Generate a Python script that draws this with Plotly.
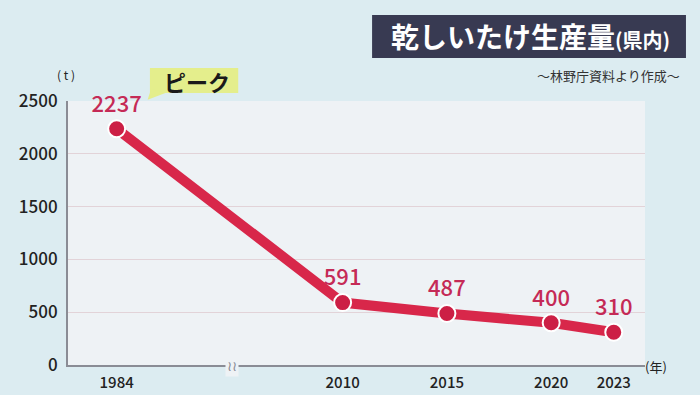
import plotly.graph_objects as go

years = ["1984", "2010", "2015", "2020", "2023"]
values = [2237, 591, 487, 400, 310]
y_ticks = [0, 500, 1000, 1500, 2000, 2500]

dates = [f"{y}-01-01" for y in years]
FONT = "Noto Sans CJK JP"

fig = go.Figure()
fig.add_trace(go.Scatter(
    x=dates, y=values, mode="lines+markers+text",
    line=dict(color="#d8274a", width=10),
    marker=dict(size=17, color="#cc1f45", line=dict(color="#ffffff", width=2)),
    text=[str(v) for v in values], textposition="top center",
    textfont=dict(family=FONT, size=22, color="#c52a56", weight=500),
    cliponaxis=False, hoverinfo="skip",
))

fig.update_layout(
    width=700, height=395,
    margin=dict(l=68, r=55, t=101, b=30),
    paper_bgcolor="#dcecf1",
    plot_bgcolor="#eef2f5",
    showlegend=False,
    font=dict(family=FONT, color="#222"),
    xaxis=dict(
        type="date", automargin=False,
        range=["1981-09-01", "2024-07-01"],
        rangebreaks=[dict(bounds=["1989-03-01", "2004-05-01"])],
        tickvals=dates, ticktext=years,
        tickfont=dict(size=15, color="#222", weight=500),
        showgrid=False, zeroline=False,
        showline=True, linecolor="#8a8c95", linewidth=2,
        ticks="", ticklabelstandoff=3,
    ),
    yaxis=dict(
        range=[0, 2500], tickvals=y_ticks, automargin=False,
        tickfont=dict(size=17, color="#222", weight=500),
        showgrid=True, gridcolor="#e2d3d8", gridwidth=1,
        zeroline=False, showline=True, linecolor="#8a8c95", linewidth=2,
        ticks="", ticklabelstandoff=5,
    ),
)

# title box
fig.add_shape(type="rect", xref="paper", yref="paper",
              x0=0.527, x1=1.071, y0=1.163, y1=1.326,
              fillcolor="#383a52", line=dict(width=0), layer="above")
fig.add_annotation(xref="paper", yref="paper", x=0.801, y=1.245,
                   text="<b>乾しいたけ生産量</b><span style='font-size:20px'><b>(県内)</b></span>",
                   showarrow=False, font=dict(family=FONT, size=28, color="#ffffff"),
                   xanchor="center", yanchor="middle")
fig.add_annotation(xref="paper", yref="paper", x=1.064, y=1.098,
                   text="～林野庁資料より作成～", showarrow=False,
                   font=dict(family=FONT, size=13, color="#333"),
                   xanchor="right", yanchor="middle")

# peak callout
fig.add_shape(type="rect", xref="paper", yref="paper",
              x0=0.142, x1=0.295, y0=1.030, y1=1.125,
              fillcolor="#e4ee8c", line=dict(width=0))
fig.add_shape(type="path", xref="paper", yref="paper",
              path="M 0.144 1.045 L 0.170 1.031 L 0.138 1.005 Z",
              fillcolor="#e4ee8c", line=dict(width=0))
fig.add_annotation(xref="paper", yref="paper", x=0.224, y=1.076,
                   text="<b>ピーク</b>", showarrow=False,
                   font=dict(family=FONT, size=22, color="#1a1a1a"),
                   xanchor="center", yanchor="middle")

# unit labels
fig.add_annotation(xref="paper", yref="paper", x=-0.022, y=1.10,
                   text="( t )", showarrow=False, yanchor="middle",
                   font=dict(family=FONT, size=12, color="#222"))
fig.add_annotation(xref="paper", yref="paper", x=1.042, y=-0.05,
                   text="(年)", showarrow=False,
                   font=dict(family=FONT, size=13, color="#222"))
# axis break mark
fig.add_annotation(xref="paper", yref="paper", x=0.272, y=0.0,
                   text="≀≀", showarrow=False, yanchor="middle",
                   font=dict(family=FONT, size=14, color="#8a8c95"),
                   bgcolor="#eef2f5")

fig.write_html("out.html", config={"displayModeBar": False},
               post_script="document.body.style.margin='0';document.body.style.background='#dcecf1';")
